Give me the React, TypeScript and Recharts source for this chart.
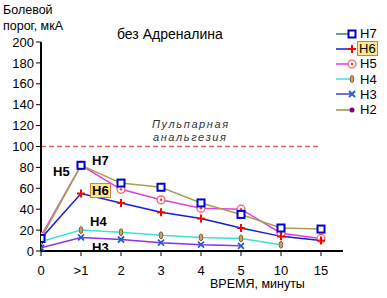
import React from 'react';
import { LineChart, Line, XAxis, YAxis, ReferenceLine, Legend } from 'recharts';

const categories = ['0', '>1', '2', '3', '4', '5', '10', '15'];
const yTicks = [0, 20, 40, 60, 80, 100, 120, 140, 160, 180, 200];
const h7 = [12, 82, 65, 61, 46, 35, 22, 21];
const h6 = [12, 55, 46, 37, 31, 22, 14, 10];
const h5 = [14, 82, 59, 49, 41, 40, 17, 12];
const h4 = [9, 20, 18, 15, 13, 12, 6, null];
const h3 = [3, 13, 11, 8, 6, 5, null, null];
const h2: (number | null)[] = [null, null, null, null, null, null, null, null];
const pulpLevel = 100;

const data = categories.map((c, i) => ({
  i,
  cat: c,
  H7: h7[i],
  H6: h6[i],
  H5: h5[i],
  H4: h4[i],
  H3: h3[i],
  H2: h2[i],
}));

const FONT = '"Liberation Sans", Arial, sans-serif';

type MarkerKind = 'square' | 'plus' | 'circle' | 'oval' | 'cross' | 'dot';

const drawMarker = (kind: MarkerKind, cx: number, cy: number, key?: string | number) => {
  switch (kind) {
    case 'square':
      return <rect key={key} x={cx - 3.5} y={cy - 3.5} width={7} height={7} fill="#ffffff" stroke="#0000cc" strokeWidth={2} />;
    case 'plus':
      return (
        <g key={key} stroke="#ff0000" strokeWidth={2}>
          <line x1={cx - 4} y1={cy} x2={cx + 4} y2={cy} />
          <line x1={cx} y1={cy - 4} x2={cx} y2={cy + 4} />
        </g>
      );
    case 'circle':
      return (
        <g key={key}>
          <circle cx={cx} cy={cy} r={4} fill="#ffffff" stroke="#ff5050" strokeWidth={1.2} />
          <circle cx={cx} cy={cy} r={1.2} fill="#ff3030" />
        </g>
      );
    case 'oval':
      return <ellipse key={key} cx={cx} cy={cy} rx={1.8} ry={3.5} fill="#d0a060" stroke="#806040" strokeWidth={1} />;
    case 'cross':
      return (
        <g key={key} stroke="#2060d0" strokeWidth={1.8}>
          <line x1={cx - 3} y1={cy - 3} x2={cx + 3} y2={cy + 3} />
          <line x1={cx - 3} y1={cy + 3} x2={cx + 3} y2={cy - 3} />
        </g>
      );
    case 'dot':
      return <circle key={key} cx={cx} cy={cy} r={2.5} fill="#800080" />;
  }
  return null;
};

const series: { key: string; color: string; legendColor: string; marker: MarkerKind }[] = [
  { key: 'H7', color: '#a8a050', legendColor: '#308080', marker: 'square' },
  { key: 'H6', color: '#1a1ad8', legendColor: '#1a1ad8', marker: 'plus' },
  { key: 'H5', color: '#e040e0', legendColor: '#e040e0', marker: 'circle' },
  { key: 'H4', color: '#40e0d8', legendColor: '#40e0d8', marker: 'oval' },
  { key: 'H3', color: '#9030e0', legendColor: '#4040c0', marker: 'cross' },
  { key: 'H2', color: '#a09040', legendColor: '#a09040', marker: 'dot' },
];

const makeDot = (kind: MarkerKind) => (props: any) => {
  const { cx, cy, value, index } = props;
  if (value === null || value === undefined || cx == null || cy == null) return <g key={index} />;
  return drawMarker(kind, cx, cy, index);
};

const renderLegend = () => (
  <div style={{ fontFamily: FONT, fontSize: 13, color: '#000' }}>
    {series.map((s) => (
      <div key={s.key} style={{ display: 'flex', alignItems: 'center', height: 15.2 }}>
        <svg width={22} height={12} style={{ display: 'block' }}>
          <line x1={1} y1={6} x2={17} y2={6} stroke={s.legendColor} strokeWidth={1.5} />
          {drawMarker(s.marker, 17, 6)}
        </svg>
        <span
          style={{
            lineHeight: '13px',
            padding: s.key === 'H6' ? '0 1px' : '0 2px',
            background: s.key === 'H6' ? '#ffe890' : 'transparent',
            border: s.key === 'H6' ? '1px solid #d08040' : '1px solid transparent',
          }}
        >
          {s.key}
        </span>
      </div>
    ))}
  </div>
);

const overlay = (text: string, left: number, top: number, style: React.CSSProperties = {}) => (
  <div
    style={{
      position: 'absolute',
      left,
      top,
      fontFamily: FONT,
      whiteSpace: 'nowrap',
      lineHeight: 1,
      ...style,
    }}
  >
    {text}
  </div>
);

export default function App() {
  return (
    <div style={{ position: 'absolute', left: 0, top: 0, width: 387, height: 298, background: '#fff' }}>
      <LineChart width={387} height={298} data={data} margin={{ top: 42, right: 44, bottom: 0, left: 0 }}>
        <XAxis
          dataKey="i"
          type="number"
          domain={[0, 7.55]}
          ticks={[0, 1, 2, 3, 4, 5, 6, 7]}
          tickFormatter={(v: number) => categories[v]}
          height={47}
          tickSize={5}
          tickMargin={10}
          axisLine={{ stroke: '#000', strokeWidth: 2 }}
          tickLine={{ stroke: '#000' }}
          tick={{ fill: '#000', fontSize: 13, fontFamily: FONT }}
          allowDataOverflow
        />
        <YAxis
          domain={[0, 200]}
          ticks={yTicks}
          width={41}
          tickSize={5}
          tickMargin={2}
          axisLine={{ stroke: '#000', strokeWidth: 2 }}
          tickLine={{ stroke: '#000' }}
          tick={{ fill: '#000', fontSize: 13, fontFamily: FONT }}
          interval={0}
        />
        <ReferenceLine
          segment={[{ x: 0, y: pulpLevel }, { x: 7, y: pulpLevel }]}
          stroke="#e06070"
          strokeWidth={1.5}
          strokeDasharray="5 3"
        />
        {series
          .slice()
          .reverse()
          .map((s) => (
            <Line
              key={s.key}
              dataKey={s.key}
              stroke={s.color}
              strokeWidth={1.5}
              dot={makeDot(s.marker)}
              activeDot={false}
              isAnimationActive={false}
              connectNulls={false}
            />
          ))}
        <Legend
          layout="vertical"
          align="center"
          verticalAlign="middle"
          wrapperStyle={{ left: 335, top: 26, width: 52 }}
          content={renderLegend}
        />
      </LineChart>
      {overlay('Болевой', 3, 4, { fontSize: 12.5 })}
      {overlay('порог, мкА', 3, 20, { fontSize: 12.5 })}
      {overlay('без Адреналина', 117, 27, { fontSize: 14 })}
      {overlay('Пульпарная', 152, 119, { fontSize: 11, fontStyle: 'italic', color: '#333', letterSpacing: '1.6px' })}
      {overlay('анальгезия', 153, 131.5, { fontSize: 11, fontStyle: 'italic', color: '#333', letterSpacing: '1.6px' })}
      {overlay('H5', 53, 165, { fontSize: 13, fontWeight: 'bold' })}
      {overlay('H7', 92, 154, { fontSize: 13, fontWeight: 'bold' })}
      {overlay('H6', 90, 183, {
        fontSize: 13,
        fontWeight: 'bold',
        background: '#ffe890',
        border: '1px solid #d08040',
        padding: '0 1px',
      })}
      {overlay('H4', 90, 215, { fontSize: 13, fontWeight: 'bold' })}
      {overlay('H3', 92, 241, { fontSize: 13, fontWeight: 'bold' })}
      {overlay('ВРЕМЯ, минуты', 210, 278, { fontSize: 12.5 })}
    </div>
  );
}
